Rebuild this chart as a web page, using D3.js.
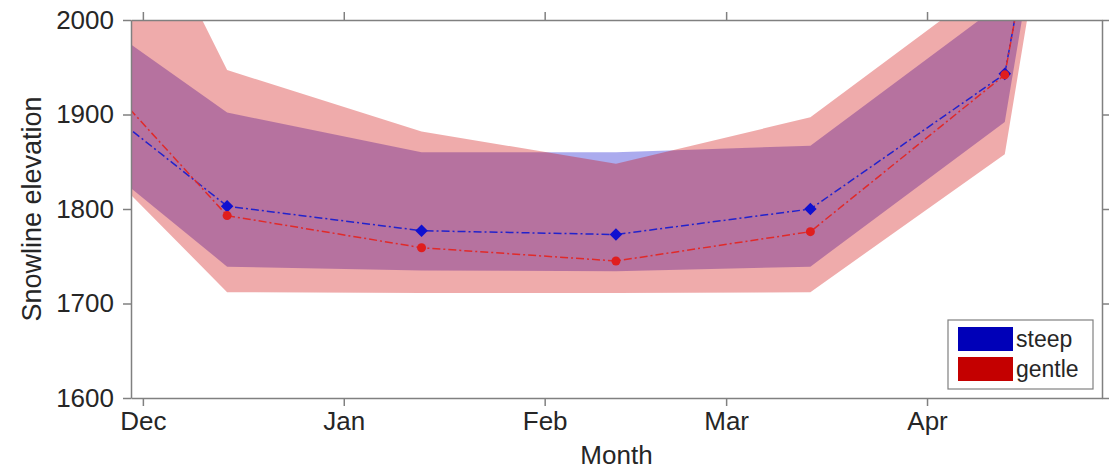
<!DOCTYPE html>
<html>
<head>
<meta charset="utf-8">
<script src="https://cdn.jsdelivr.net/npm/d3@7"></script>
<style>
  body { margin: 0; background: #fff; }
  text { font-family: "Liberation Sans", Arial, sans-serif; }
</style>
</head>
<body>
<script>
// data (monthly values, months outside view are clipped)
var months = ["2010-11-14", "2010-12-14", "2011-01-13", "2011-02-12", "2011-03-14", "2011-04-13", "2011-05-14"];
var steepMean  = [1966, 1803, 1777, 1773, 1800, 1943, 3110];
var steepLow   = [1907, 1739, 1735, 1734, 1739, 1892, 3160];
var steepHigh  = [2048, 1902, 1860, 1860, 1867, 2020, 3300];
var gentleMean = [2018, 1793, 1759, 1745, 1776, 1942, 3110];
var gentleLow  = [1920, 1712, 1711, 1711, 1712, 1858, 3140];
var gentleHigh = [2360, 1947, 1882, 1848, 1897, 2050, 3300];
var xTicks = ["2010-12-01", "2011-01-01", "2011-02-01", "2011-03-01", "2011-04-01"];
var yTicks = [1600, 1700, 1800, 1900, 2000];
var seriesNames = ["steep", "gentle"];

var width = 1109, height = 469;
// plot box edges (don't call it "top", window.top is taken)
var pL = 131, pR = 1102, pT = 20, pB = 398;

var parse = d3.timeParse("%Y-%m-%d");
var dates = months.map(parse);

var svg = d3.select("body").append("svg")
  .attr("width", width)
  .attr("height", height);

var x = d3.scaleTime()
  .domain([new Date(2010, 10, 29, 4), new Date(2011, 3, 28)])
  .range([pL, pR]);
var y = d3.scaleLinear().domain([1600, 2000]).range([pB, pT]);

svg.append("clipPath").attr("id", "plotclip")
  .append("rect")
  .attr("x", pL).attr("y", pT)
  .attr("width", pR - pL).attr("height", pB - pT);

var plot = svg.append("g").attr("clip-path", "url(#plotclip)");

function band(lo, hi) {
  return d3.area()
    .x(function (d, i) { return x(dates[i]); })
    .y0(function (d, i) { return y(lo[i]); })
    .y1(function (d, i) { return y(hi[i]); })(dates);
}
function line(vals) {
  return d3.line()
    .x(function (d, i) { return x(dates[i]); })
    .y(function (d, i) { return y(vals[i]); })(dates);
}

// bands: blue first, red on top
plot.append("path").attr("d", band(steepLow, steepHigh))
  .attr("fill", "rgb(0,0,204)").attr("fill-opacity", 0.33);
plot.append("path").attr("d", band(gentleLow, gentleHigh))
  .attr("fill", "rgb(206,0,0)").attr("fill-opacity", 0.33);

// mean lines (dash-dot)
plot.append("path").attr("d", line(steepMean))
  .attr("fill", "none").attr("stroke", "#2222cc").attr("stroke-width", 1.5)
  .attr("stroke-dasharray", "8,3,2,3");
plot.append("path").attr("d", line(gentleMean))
  .attr("fill", "none").attr("stroke", "#e02a2a").attr("stroke-width", 1.5)
  .attr("stroke-dasharray", "8,3,2,3");

plot.selectAll(".steepPt").data(steepMean).enter().append("path")
  .attr("class", "steepPt")
  .attr("d", d3.symbol().type(d3.symbolDiamond2).size(100))
  .attr("transform", function (d, i) { return "translate(" + x(dates[i]) + "," + y(d) + ")"; })
  .attr("fill", "#1010d0");
plot.selectAll(".gentlePt").data(gentleMean).enter().append("circle")
  .attr("class", "gentlePt")
  .attr("cx", function (d, i) { return x(dates[i]); })
  .attr("cy", function (d) { return y(d); })
  .attr("r", 4.5)
  .attr("fill", "#e01e1e");

// axes
var axisColor = "#808080", labelColor = "#262626";
var xt = xTicks.map(parse);

function styleAxis(g) {
  g.selectAll("path, line").attr("stroke", axisColor).attr("stroke-width", 1.5);
  g.selectAll("text").attr("fill", labelColor).style("font-size", "26px")
    .style("font-family", "'Liberation Sans', Arial, sans-serif");
}

svg.append("g").attr("transform", "translate(0," + pB + ")")
  .call(d3.axisBottom(x).tickValues(xt).tickFormat(d3.timeFormat("%b")).tickSize(8).tickSizeOuter(0).tickPadding(6))
  .call(styleAxis);
svg.append("g").attr("transform", "translate(0," + pT + ")")
  .call(d3.axisTop(x).tickValues(xt).tickFormat("").tickSize(8).tickSizeOuter(0))
  .call(styleAxis);
svg.append("g").attr("transform", "translate(" + pL + ",0)")
  .call(d3.axisLeft(y).tickValues(yTicks).tickFormat(d3.format("d")).tickSize(8).tickSizeOuter(0).tickPadding(9))
  .call(styleAxis);
svg.append("g").attr("transform", "translate(" + pR + ",0)")
  .call(d3.axisRight(y).tickValues(yTicks).tickFormat("").tickSize(7).tickSizeOuter(0))
  .call(styleAxis);

svg.append("text")
  .attr("x", (pL + pR) / 2).attr("y", 464)
  .attr("text-anchor", "middle").attr("fill", labelColor)
  .style("font-size", "26px").text("Month");
svg.append("text")
  .attr("transform", "translate(41," + (pT + pB) / 2 + ") rotate(-90)")
  .attr("text-anchor", "middle").attr("fill", labelColor)
  .style("font-size", "27px").text("Snowline elevation");

// legend
var lg = svg.append("g").attr("transform", "translate(948,320)");
lg.append("rect").attr("width", 145).attr("height", 69)
  .attr("fill", "#fff").attr("stroke", axisColor).attr("stroke-width", 1.2);
var swatch = ["#0000b8", "#c40000"];
seriesNames.forEach(function (name, i) {
  lg.append("rect").attr("x", 10).attr("y", 7 + i * 30)
    .attr("width", 55).attr("height", 24).attr("fill", swatch[i]);
  lg.append("text").attr("x", 68).attr("y", 27 + i * 30)
    .attr("fill", labelColor).style("font-size", "23px").text(name);
});
</script>
</body>
</html>
